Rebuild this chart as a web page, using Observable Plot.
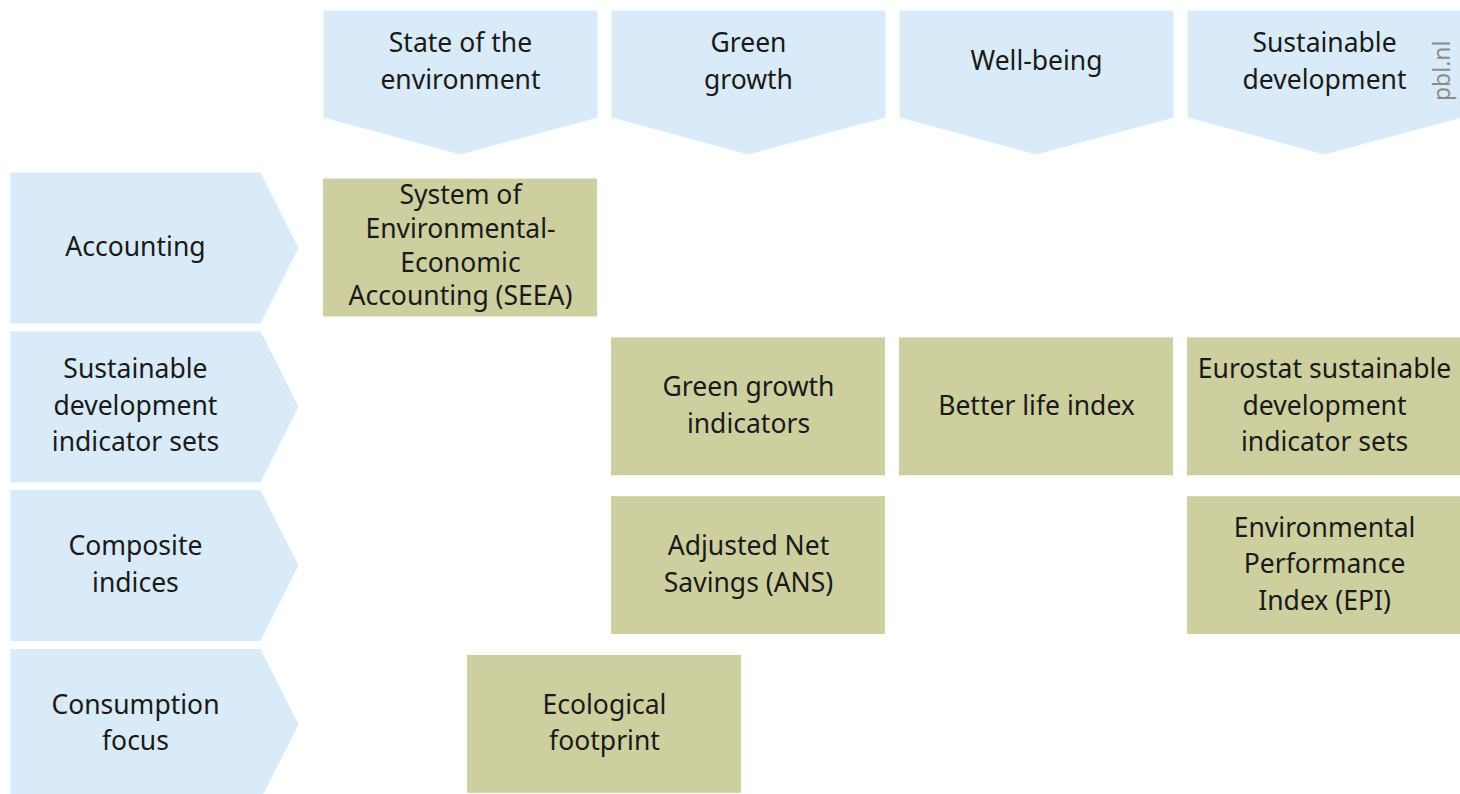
<!DOCTYPE html>
<html>
<head>
<meta charset="utf-8">
<script src="https://cdn.jsdelivr.net/npm/d3@7"></script>
<script src="https://cdn.jsdelivr.net/npm/@observablehq/plot@0.6"></script>
<style>
  html, body { margin: 0; padding: 0; background: #ffffff; }
  svg { display: block; }
</style>
</head>
<body>
<div id="chart"></div>
<script>
// ---- Data ----
const columnLabels = ["State of the\nenvironment", "Green\ngrowth", "Well-being", "Sustainable\ndevelopment"];
const rowLabels = ["Accounting", "Sustainable\ndevelopment\nindicator sets", "Composite\nindices", "Consumption\nfocus"];
const cellLabels = [
  "System of\nEnvironmental-\nEconomic\nAccounting (SEEA)",
  "Green growth\nindicators",
  "Better life index",
  "Eurostat sustainable\ndevelopment\nindicator sets",
  "Adjusted Net\nSavings (ANS)",
  "Environmental\nPerformance\nIndex (EPI)",
  "Ecological\nfootprint"
];
const cellColumn = [0, 1, 2, 3, 1, 3, 0.5];   // column position (0.5 = between columns 1 and 2)
const cellRow = [1, 2, 2, 2, 3, 3, 4];        // row position
const sourceLabel = "pbl.nl";

// ---- Shapes (in grid units) ----
const blue = "#d9ebf8";
const olive = "#cdcf9f";
const colHalfW = 0.4757, colTop = -0.496, colShoulder = 0.178, colTip = 0.411;
const rowLeft = -1.5625, rowShoulder = -0.6944, rowTip = -0.5625, rowHalfH = 0.4754;
const boxHalfW = 0.4757, boxHalfH = 0.434;

const columns = columnLabels.map((label, i) => ({label, col: i}));
const rows = rowLabels.map((label, i) => ({label, row: i + 1}));
const cells = cellLabels.map((label, i) => ({label, col: cellColumn[i], row: cellRow[i]}));

const colPoly = columns.flatMap(d => [
  {id: "c" + d.col, x: d.col - colHalfW, y: colTop},
  {id: "c" + d.col, x: d.col + colHalfW, y: colTop},
  {id: "c" + d.col, x: d.col + colHalfW, y: colShoulder},
  {id: "c" + d.col, x: d.col, y: colTip},
  {id: "c" + d.col, x: d.col - colHalfW, y: colShoulder}
]);
const rowPoly = rows.flatMap(d => [
  {id: "r" + d.row, x: rowLeft, y: d.row - rowHalfH},
  {id: "r" + d.row, x: rowShoulder, y: d.row - rowHalfH},
  {id: "r" + d.row, x: rowTip, y: d.row},
  {id: "r" + d.row, x: rowShoulder, y: d.row + rowHalfH},
  {id: "r" + d.row, x: rowLeft, y: d.row + rowHalfH}
]);

const font = "'Noto Sans', 'Open Sans', sans-serif";
const textOpts = {fontSize: 26.5, fontFamily: font, fill: "#1a1a1a", lineHeight: 1.38, dy: -4};
const manyLines = d => d.label.split("\n").length > 3;

const chart = Plot.plot({
  width: 1460,
  height: 794,
  margin: 0,
  style: {background: "#ffffff", fontFamily: font},
  x: {domain: [-1.597, 3.472], range: [0, 1460], axis: null},
  y: {domain: [-0.5586, 4.4414], range: [0, 794], axis: null},
  marks: [
    Plot.line(colPoly, {x: "x", y: "y", z: "id", fill: blue, stroke: "none", curve: "linear-closed"}),
    Plot.line(rowPoly, {x: "x", y: "y", z: "id", fill: blue, stroke: "none", curve: "linear-closed"}),
    Plot.rect(cells, {
      x1: d => d.col - boxHalfW, x2: d => d.col + boxHalfW,
      y1: d => d.row - boxHalfH, y2: d => d.row + boxHalfH,
      fill: olive
    }),
    Plot.text(columns, {x: "col", y: () => -0.168, text: "label", ...textOpts}),
    Plot.text(rows, {x: () => (rowLeft + rowShoulder) / 2, y: "row", text: "label", ...textOpts}),
    Plot.text(cells, {filter: d => !manyLines(d), x: "col", y: "row", text: "label", ...textOpts}),
    Plot.text(cells, {filter: manyLines, x: "col", y: "row", text: "label", ...textOpts, lineHeight: 1.27}),
    Plot.text([sourceLabel], {
      text: d => d, frameAnchor: "top-right", rotate: -90, textAnchor: "end",
      dx: -27, dy: 40, fontSize: 23, fontFamily: font, fill: "#8c8c8c"
    })
  ]
});
document.getElementById("chart").appendChild(chart);
</script>
</body>
</html>
